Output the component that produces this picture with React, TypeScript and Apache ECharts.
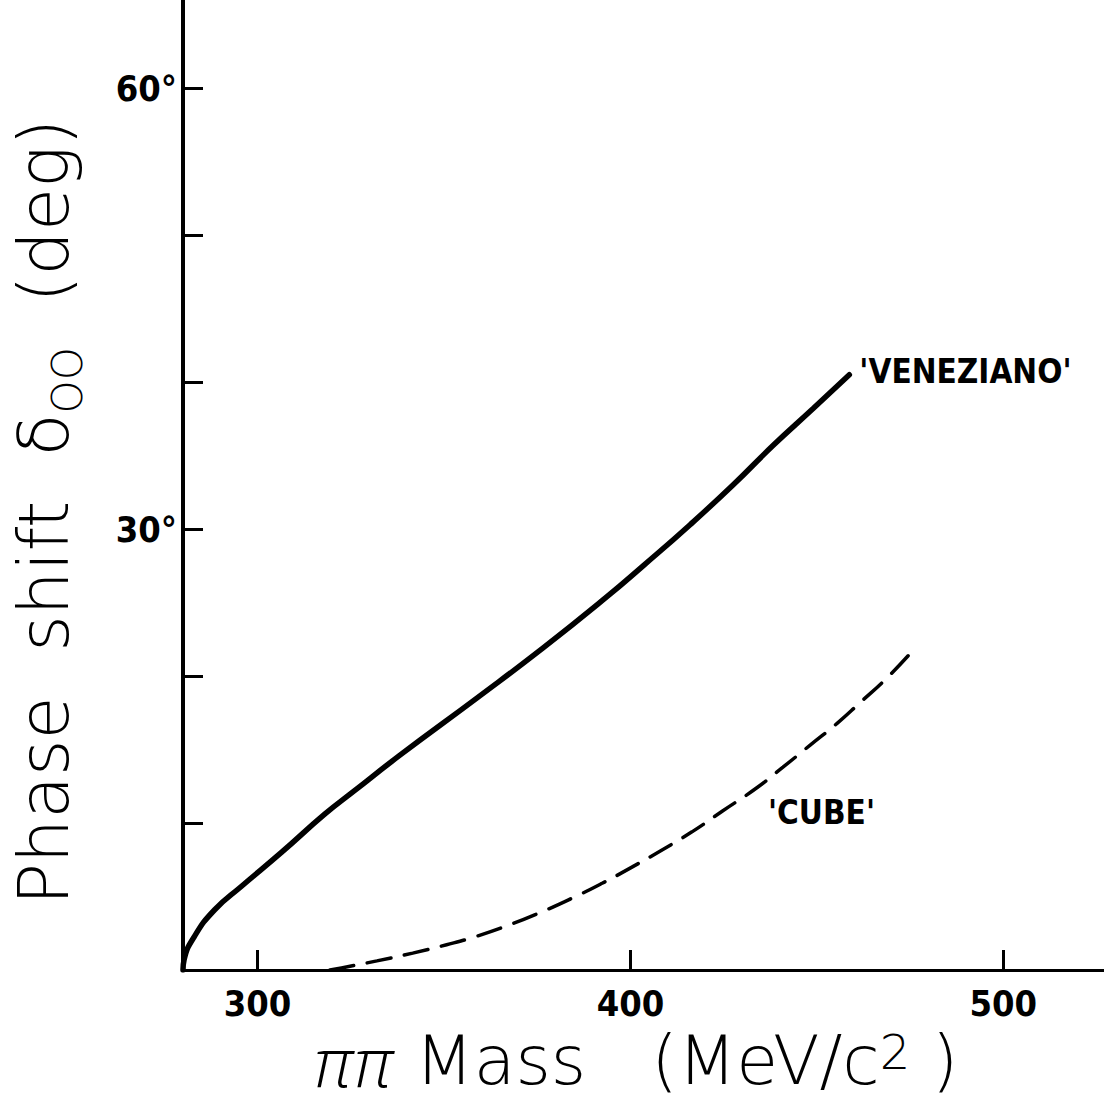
import React, { useEffect, useRef } from "react";
import * as echarts from "echarts";

// ---- data ----
const venezianoMass = [280, 280.3, 283.1, 288.5, 295.7, 306.4, 318.0, 326.0, 338.1, 358.8, 376.5, 393.7, 403.4, 416.0, 427.5, 438.3, 449.0, 458.7];
const venezianoPhase = [0, 0.7, 2.3, 4.1, 5.7, 8.0, 10.6, 12.2, 14.6, 18.5, 21.9, 25.4, 27.5, 30.3, 33.0, 35.7, 38.2, 40.5];

const cubeMass = [319.4, 322.5, 332.0, 341.6, 350.7, 358.8, 366.8, 375.7, 384.3, 392.4, 400.4, 408.7, 416.5, 424.6, 433.9, 440.9, 448.2, 455.5, 461.6, 468.9, 475.6];
const cubePhase = [0, 0.14, 0.62, 1.15, 1.72, 2.3, 3.0, 3.9, 4.88, 5.9, 7.0, 8.2, 9.4, 10.8, 12.4, 13.8, 15.3, 16.8, 18.2, 19.9, 21.7];

const xTicks = [300, 400, 500];
const yTicks = [0, 10, 20, 30, 40, 50, 60];
const yLabels = [30, 60];

const seriesNames = ["'VENEZIANO'", "'CUBE'"];

const NARROW = "'DejaVu Sans Condensed', 'Liberation Sans Narrow', sans-serif";
const THIN = "'DejaVu Sans', 'Noto Sans', sans-serif";

export default function App() {
  const ref = useRef<HTMLDivElement>(null);

  useEffect(() => {
    if (!ref.current) return;
    const chart = echarts.init(ref.current, undefined, { renderer: "svg" });
    const ven = venezianoMass.map((m, i) => [m, venezianoPhase[i]]);
    const cube = cubeMass.map((m, i) => [m, cubePhase[i]]);

    chart.setOption({
      animation: false,
      backgroundColor: "#fff",
      grid: { left: 183, right: 0, top: 0, bottom: 140, containLabel: false },
      xAxis: {
        type: "value",
        min: 280,
        max: 527,
        axisLine: { show: true, lineStyle: { color: "#000", width: 3 } },
        axisTick: { show: true, inside: true, length: 20, customValues: xTicks, lineStyle: { color: "#000", width: 3 } },
        axisLabel: {
          customValues: xTicks,
          margin: 15,
          color: "#000",
          fontFamily: NARROW,
          fontWeight: "bold",
          fontSize: 36,
        },
        splitLine: { show: false },
      },
      yAxis: {
        type: "value",
        min: 0,
        max: 66,
        axisLine: { show: true, lineStyle: { color: "#000", width: 4 } },
        axisTick: { show: true, inside: true, length: 20, customValues: yTicks, lineStyle: { color: "#000", width: 3 } },
        axisLabel: {
          customValues: yLabels,
          margin: 6,
          color: "#000",
          fontFamily: NARROW,
          fontWeight: "bold",
          fontSize: 36,
          formatter: (v: number) => v + "°",
        },
        splitLine: { show: false },
      },
      series: [
        {
          name: seriesNames[0],
          type: "line",
          data: ven,
          showSymbol: false,
          smooth: 0.5,
          lineStyle: { color: "#000", width: 5.5, cap: "round" },
          endLabel: {
            show: true,
            formatter: seriesNames[0],
            distance: 10,
            offset: [0, -3],
            color: "#000",
            fontFamily: NARROW,
            fontWeight: "bold",
            fontSize: 33,
          },
        },
        {
          name: seriesNames[1],
          type: "line",
          data: cube,
          showSymbol: false,
          smooth: 0.5,
          lineStyle: { color: "#000", width: 3.5, type: [24, 14], cap: "round" },
        },
      ],
      graphic: [
        {
          type: "text",
          left: 768,
          top: 796,
          style: {
            text: seriesNames[1],
            fill: "#000",
            fontFamily: NARROW,
            fontWeight: "bold",
            fontSize: 33,
          },
        },
        {
          type: "text",
          x: 44,
          y: 512,
          rotation: Math.PI / 2,
          style: {
            text: "Phase  shift  δ{s|OO}  (deg)",
            align: "center",
            verticalAlign: "middle",
            fill: "#000",
            fontFamily: THIN,
            fontWeight: 200,
            fontSize: 70,
            lineHeight: 88,
            rich: {
              s: { fontSize: 42, lineHeight: 42, verticalAlign: "bottom", fontFamily: THIN, fontWeight: 200, fill: "#000" },
            },
          },
        },
        {
          type: "text",
          x: 636,
          y: 1060,
          style: {
            text: "{p|ππ} Mass   (MeV/c{sup|2} )",
            align: "center",
            verticalAlign: "middle",
            fill: "#000",
            fontFamily: THIN,
            fontWeight: 200,
            fontSize: 68,
            lineHeight: 64,
            rich: {
              p: { fontStyle: "italic", fontFamily: "'Open Sans', 'DejaVu Sans', sans-serif", fontWeight: 300, fontSize: 68, lineHeight: 64, fill: "#000" },
              sup: { fontSize: 48, lineHeight: 36, verticalAlign: "top", fontFamily: THIN, fontWeight: 200, fill: "#000" },
            },
          },
        },
      ],
    });
    return () => chart.dispose();
  }, []);

  return (
    <div
      ref={ref}
      style={{ position: "absolute", left: 0, top: 0, width: 1104, height: 1110, background: "#fff" }}
    />
  );
}
